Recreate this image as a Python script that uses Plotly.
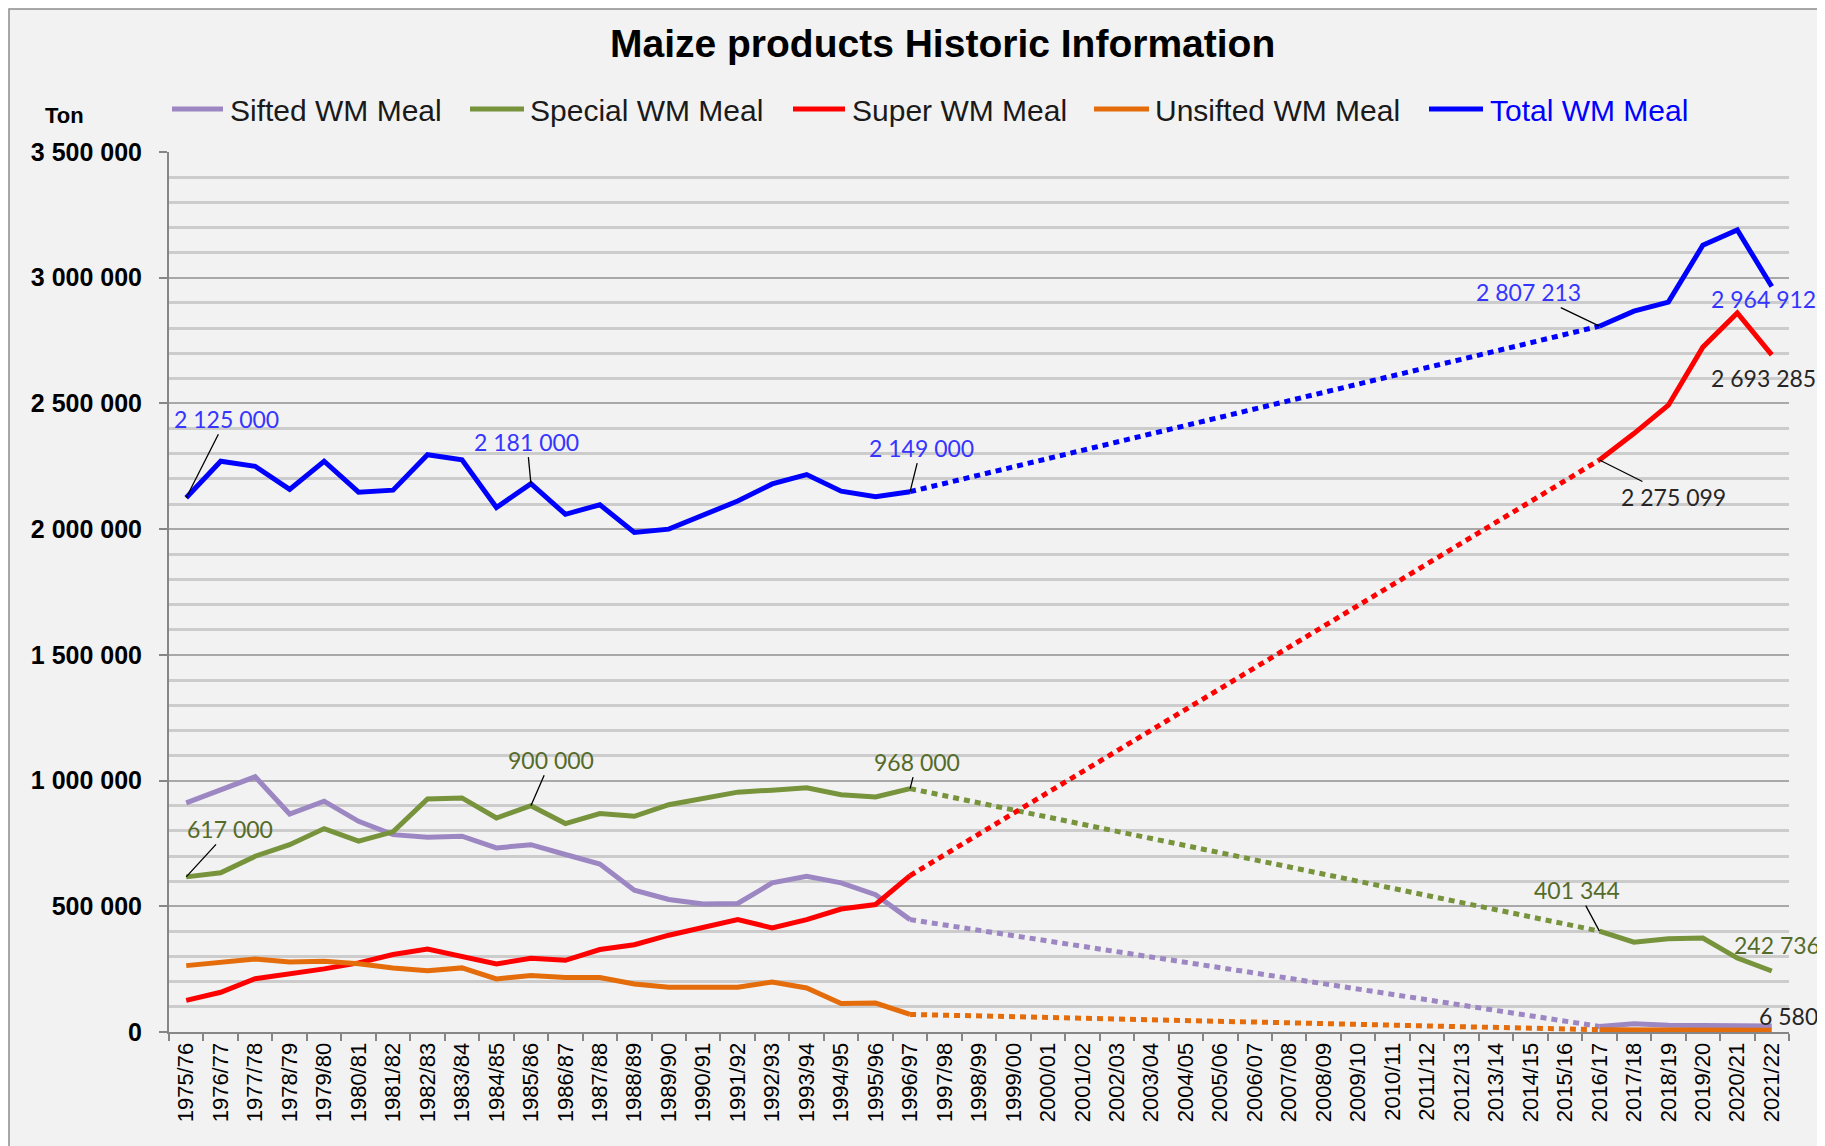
import plotly.graph_objects as go

# ---------------- data ----------------
seasons = [f"{y}/{str(y + 1)[-2:]}" for y in range(1975, 2022)]
GAP = [None] * 19  # 1997/98 .. 2015/16 not reported

sifted = [911000, 964000, 1015000, 867000, 918000, 838000, 785000, 775000, 779000, 732000,
          745000, 706000, 668000, 564000, 527000, 509000, 511000, 593000, 619000, 593000,
          546000, 447000] + GAP + [22000, 33000, 27000, 25000, 24000, 24000]
special = [617000, 633000, 699000, 745000, 809000, 759000, 796000, 927000, 931000, 851000,
           900000, 829000, 869000, 858000, 904000, 928000, 954000, 962000, 971000, 944000,
           935000, 968000] + GAP + [401344, 357000, 371000, 374000, 294000, 242736]
super_ = [126000, 158000, 212000, 231000, 251000, 275000, 308000, 330000, 298000, 271000,
          293000, 285000, 328000, 347000, 385000, 415000, 447000, 414000, 447000, 489000,
          507000, 622000] + GAP + [2275099, 2380000, 2493000, 2724000, 2860000, 2693285]
unsifted = [264000, 277000, 290000, 278000, 281000, 271000, 255000, 244000, 255000, 211000,
            225000, 217000, 217000, 191000, 178000, 178000, 178000, 199000, 175000, 113000,
            115000, 70000] + GAP + [9000, 8000, 8000, 7000, 7000, 6580]
total = [2125000, 2270000, 2250000, 2158000, 2270000, 2147000, 2155000, 2296000, 2276000,
         2086000, 2181000, 2059000, 2097000, 1987000, 2000000, 2055000, 2112000, 2180000,
         2217000, 2151000, 2129000, 2149000] + GAP + [2807213, 2867000, 2903000, 3129000,
                                                      3190000, 2964912]

series_names = ["Sifted WM Meal", "Special WM Meal", "Super WM Meal", "Unsifted WM Meal", "Total WM Meal"]
series_vals = [sifted, special, super_, unsifted, total]
series_colors = ["#9c87c3", "#77933c", "#ff0000", "#e46c0a", "#0000ff"]

# labelled points: (series index, season index)
labelled = [(4, 0), (4, 10), (4, 21), (4, 41), (4, 46),
            (2, 41), (2, 46),
            (1, 0), (1, 10), (1, 21), (1, 41), (1, 46),
            (3, 46)]

# ---------------- layout helpers ----------------
W, H = 1825, 1146
OFF = 8  # page body margin
L, R, T, B = 169 - OFF, 1789 - OFF, 152 - OFF, 1032 - OFF
PW, PH = R - L, B - T


def px(xp):
    return (xp - OFF - L) / PW


def py(yp):
    return (B - (yp - OFF)) / PH


FONT = "Arial, Liberation Sans, sans-serif"
LBL = "Lato, Carlito, Calibri, sans-serif"

fig = go.Figure()

for name, vals, col in zip(series_names, series_vals, series_colors):
    fig.add_trace(go.Scatter(x=seasons, y=vals, mode="lines", name=name,
                             line=dict(color=col, width=5), connectgaps=False,
                             showlegend=False, hoverinfo="x+y+name"))
    idx = [i for i, v in enumerate(vals) if v is not None]
    a = max(i for i in idx if i < 22)
    b = min(i for i in idx if i > 22)
    fig.add_trace(go.Scatter(x=[seasons[a], seasons[b]], y=[vals[a], vals[b]], mode="lines",
                             line=dict(color=col, width=5, dash="6px,5px"),
                             showlegend=False, hoverinfo="skip"))


def fmt(v):
    return f"{v:,}".replace(",", " ")


label_color = {4: "#3535ff", 1: "#556b2a", 2: "#262626", 3: "#262626"}
placement = {
    (4, 0): ("arrow", 40, -79),
    (4, 10): ("arrow", -4, -42),
    (4, 21): ("arrow", 11, -44),
    (4, 41): ("arrow", -71, -34),
    (4, 46): ("shift", -8, -12),
    (2, 41): ("arrow", 74, 37),
    (2, 46): ("shift", -8, -23),
    (1, 0): ("arrow", 44, -48),
    (1, 10): ("arrow", 20, -46),
    (1, 21): ("arrow", 7, -27),
    (1, 41): ("arrow", -22, -41),
    (1, 46): ("shift", 5, 26),
    (3, 46): ("shift", 17, 14),
}

annotations = []
for (s, i) in labelled:
    v = series_vals[s][i]
    kind, dx, dy = placement[(s, i)]
    base = dict(x=seasons[i], y=v, xref="x", yref="y", text=fmt(v),
                font=dict(family=LBL, size=23, color=label_color[s]))
    if kind == "arrow":
        base.update(showarrow=True, ax=dx, ay=dy, arrowhead=0, arrowwidth=1.3,
                    arrowcolor="#000000", standoff=0, startstandoff=0)
    else:
        base.update(showarrow=False, xshift=dx, yshift=dy)
    annotations.append(base)

# title
annotations.append(dict(x=px(942), y=py(44), xref="paper", yref="paper", showarrow=False,
                        xanchor="center", yanchor="middle",
                        text="<b>Maize products Historic Information</b>",
                        font=dict(family=FONT, size=39, color="#000000")))
# unit label
annotations.append(dict(x=px(64), y=py(115), xref="paper", yref="paper", showarrow=False,
                        xanchor="center", yanchor="middle",
                        text="<b>Ton</b>", font=dict(family=FONT, size=22, color="#000000")))

# manual legend
legend_pos = [(172, 223, 228), (470, 524, 528), (793, 845, 850), (1094, 1149, 1153), (1429, 1483, 1488)]
shapes = [dict(type="rect", xref="paper", yref="paper", x0=px(9), x1=px(1840), y0=py(1160), y1=py(9),
               fillcolor="#f2f2f2", line=dict(color="#8c8c8c", width=1.5), layer="below")]
for (x0, x1, xt), name, col in zip(legend_pos, series_names, series_colors):
    shapes.append(dict(type="line", xref="paper", yref="paper", x0=px(x0), x1=px(x1),
                       y0=py(109), y1=py(109), line=dict(color=col, width=5)))
    annotations.append(dict(x=px(xt), y=py(110), xref="paper", yref="paper", xanchor="left",
                            yanchor="middle", showarrow=False, text=name,
                            font=dict(family=FONT, size=30,
                                      color="#0000ff" if name.startswith("Total") else "#1a1a1a")))

fig.update_layout(
    width=W, height=H,
    margin=dict(l=L, r=W - R, t=T, b=H - B, pad=0),
    paper_bgcolor="#ffffff", plot_bgcolor="#ffffff",
    separators=". ",
    showlegend=False,
    annotations=annotations, shapes=shapes,
    xaxis=dict(type="category", categoryorder="array", categoryarray=seasons,
               range=[-0.5, len(seasons) - 0.5], tickson="boundaries",
               ticks="outside", ticklen=7, tickwidth=1.5, tickcolor="#868686",
               showline=True, linecolor="#868686", linewidth=2, showgrid=False,
               tickangle=-90, tickfont=dict(family=FONT, size=22, color="#000000"),
               fixedrange=True),
    yaxis=dict(range=[0, 3500000], dtick=500000, tick0=0, tickformat=",d",
               ticks="outside", ticklen=8, tickwidth=2, tickcolor="#868686",
               showline=True, linecolor="#868686", linewidth=2, zeroline=False,
               showgrid=True, gridcolor="#a8a8a8", gridwidth=2,
               minor=dict(dtick=100000, showgrid=True, gridcolor="#cccccc", gridwidth=2.5,
                          ticks=""),
               tickfont=dict(family=FONT, size=25, color="#000000", weight="bold"),
               ticklabelstandoff=12, fixedrange=True),
)

fig.write_html("out.html")
